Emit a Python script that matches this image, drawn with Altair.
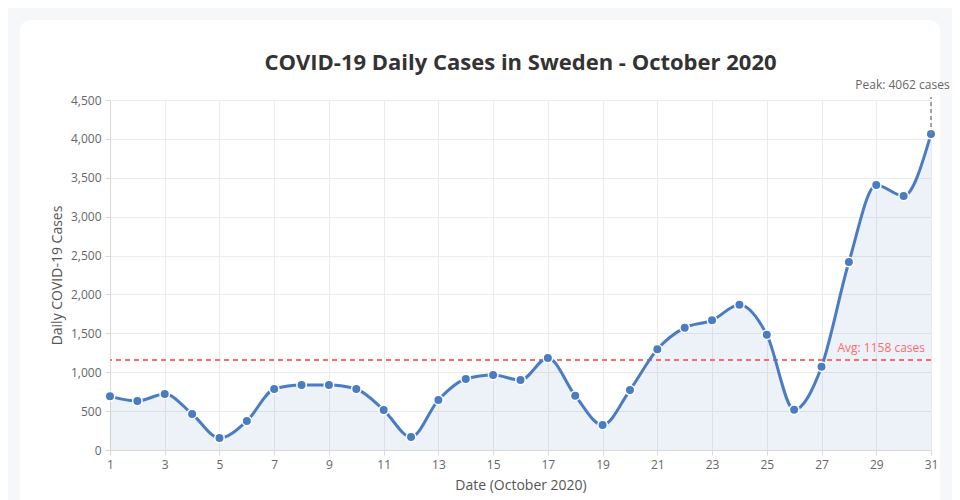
import altair as alt
import pandas as pd

days = list(range(1, 32))
cases = [690, 630, 720, 463, 154, 373, 784, 836, 836, 784,
         514, 167, 643, 913, 964, 900, 1183, 698, 321, 771,
         1294, 1573, 1667, 1868, 1483, 519, 1071, 2417, 3407, 3266, 4062]
x_ticks = list(range(1, 32, 2))
y_ticks = list(range(0, 4501, 500))
avg_value = 1158
peak_day = 31
peak_value = 4062
peak_label = "Peak: 4062 cases on Oct 31"
avg_label = "Avg: 1158 cases"

df = pd.DataFrame({"day": days, "cases": cases})

FONT = "Open Sans"
BLUE = "#4a7cc3"
RED = "#ff6b6b"
PAGE = "#f6f7f9"

x_enc = alt.X("day:Q", scale=alt.Scale(domain=[1, 31], nice=False, zero=False),
              axis=alt.Axis(values=x_ticks, title="Date (October 2020)", format="d",
                            labelFont=FONT, labelFontSize=12, labelColor="#666",
                            labelFlush=False, labelOverlap=False,
                            titleFont=FONT, titleFontSize=14, titleColor="#555",
                            titleFontWeight="normal", titlePadding=8,
                            gridColor="#ebebeb", domainColor="#d9d9d9",
                            tickColor="#d9d9d9", tickSize=5, labelPadding=4))
y_enc = alt.Y("cases:Q", scale=alt.Scale(domain=[0, 4500], nice=False),
              axis=alt.Axis(values=y_ticks, title="Daily COVID-19 Cases", format=",d",
                            labelFont=FONT, labelFontSize=12, labelColor="#666",
                            labelFlush=False, labelOverlap=False,
                            titleFont=FONT, titleFontSize=14, titleColor="#555",
                            titleFontWeight="normal", titlePadding=6,
                            gridColor="#ebebeb", domainColor="#d9d9d9",
                            tickColor="#d9d9d9", tickSize=5, labelPadding=4))

base = alt.Chart(df)

# page frame around the white card (stroke only, so it never covers the axes)
frame = alt.Chart(pd.DataFrame({"k": [0]})).mark_rect(
    fill=None, cornerRadius=22, stroke=PAGE, strokeWidth=24
).encode(x=alt.value(-102), x2=alt.value(842), y=alt.value(-92), y2=alt.value(452))

area = base.mark_area(interpolate="monotone", color=BLUE, opacity=0.1).encode(x=x_enc, y=y_enc)
line = base.mark_line(interpolate="monotone", color=BLUE, strokeWidth=3).encode(x=x_enc, y=y_enc)
points = base.mark_point(filled=True, color=BLUE, size=90, stroke="white",
                         strokeWidth=1.5, opacity=1).encode(x=x_enc, y=y_enc)

avg_df = pd.DataFrame({"cases": [avg_value], "day": [peak_day], "label": [avg_label]})
avg_rule = alt.Chart(avg_df).mark_rule(color=RED, strokeDash=[5, 4], strokeWidth=2).encode(y=y_enc)
avg_text = alt.Chart(avg_df).mark_text(align="right", baseline="middle", dx=-6, dy=-12,
                                       font=FONT, fontSize=12, color=RED).encode(
    x=x_enc, y=y_enc, text="label:N")

peak_df = pd.DataFrame({"day": [peak_day], "cases": [peak_value], "label": [peak_label]})
peak_rule = alt.Chart(peak_df).mark_rule(color="#888", strokeDash=[4, 3], strokeWidth=1.5).encode(
    x=x_enc, y=y_enc, y2=alt.value(-3))
peak_text = alt.Chart(peak_df).mark_text(align="center", baseline="middle",
                                         font=FONT, fontSize=12, color="#666").encode(
    x=x_enc, y=alt.value(-15), text="label:N")

chart = alt.layer(frame, area, avg_rule, line, points, avg_text, peak_rule, peak_text).properties(
    width=821, height=350,
    title=alt.TitleParams("COVID-19 Daily Cases in Sweden - October 2020", anchor="middle",
                          font=FONT, fontSize=22, fontWeight="bold", color="#333", offset=-79),
    background="white",
    padding={"left": 102, "top": 92, "right": 21, "bottom": 60},
    autosize=alt.AutoSizeParams(type="none"),
).configure_view(stroke=None)

chart.save("out.html", embed_options={"renderer": "svg", "actions": False})
